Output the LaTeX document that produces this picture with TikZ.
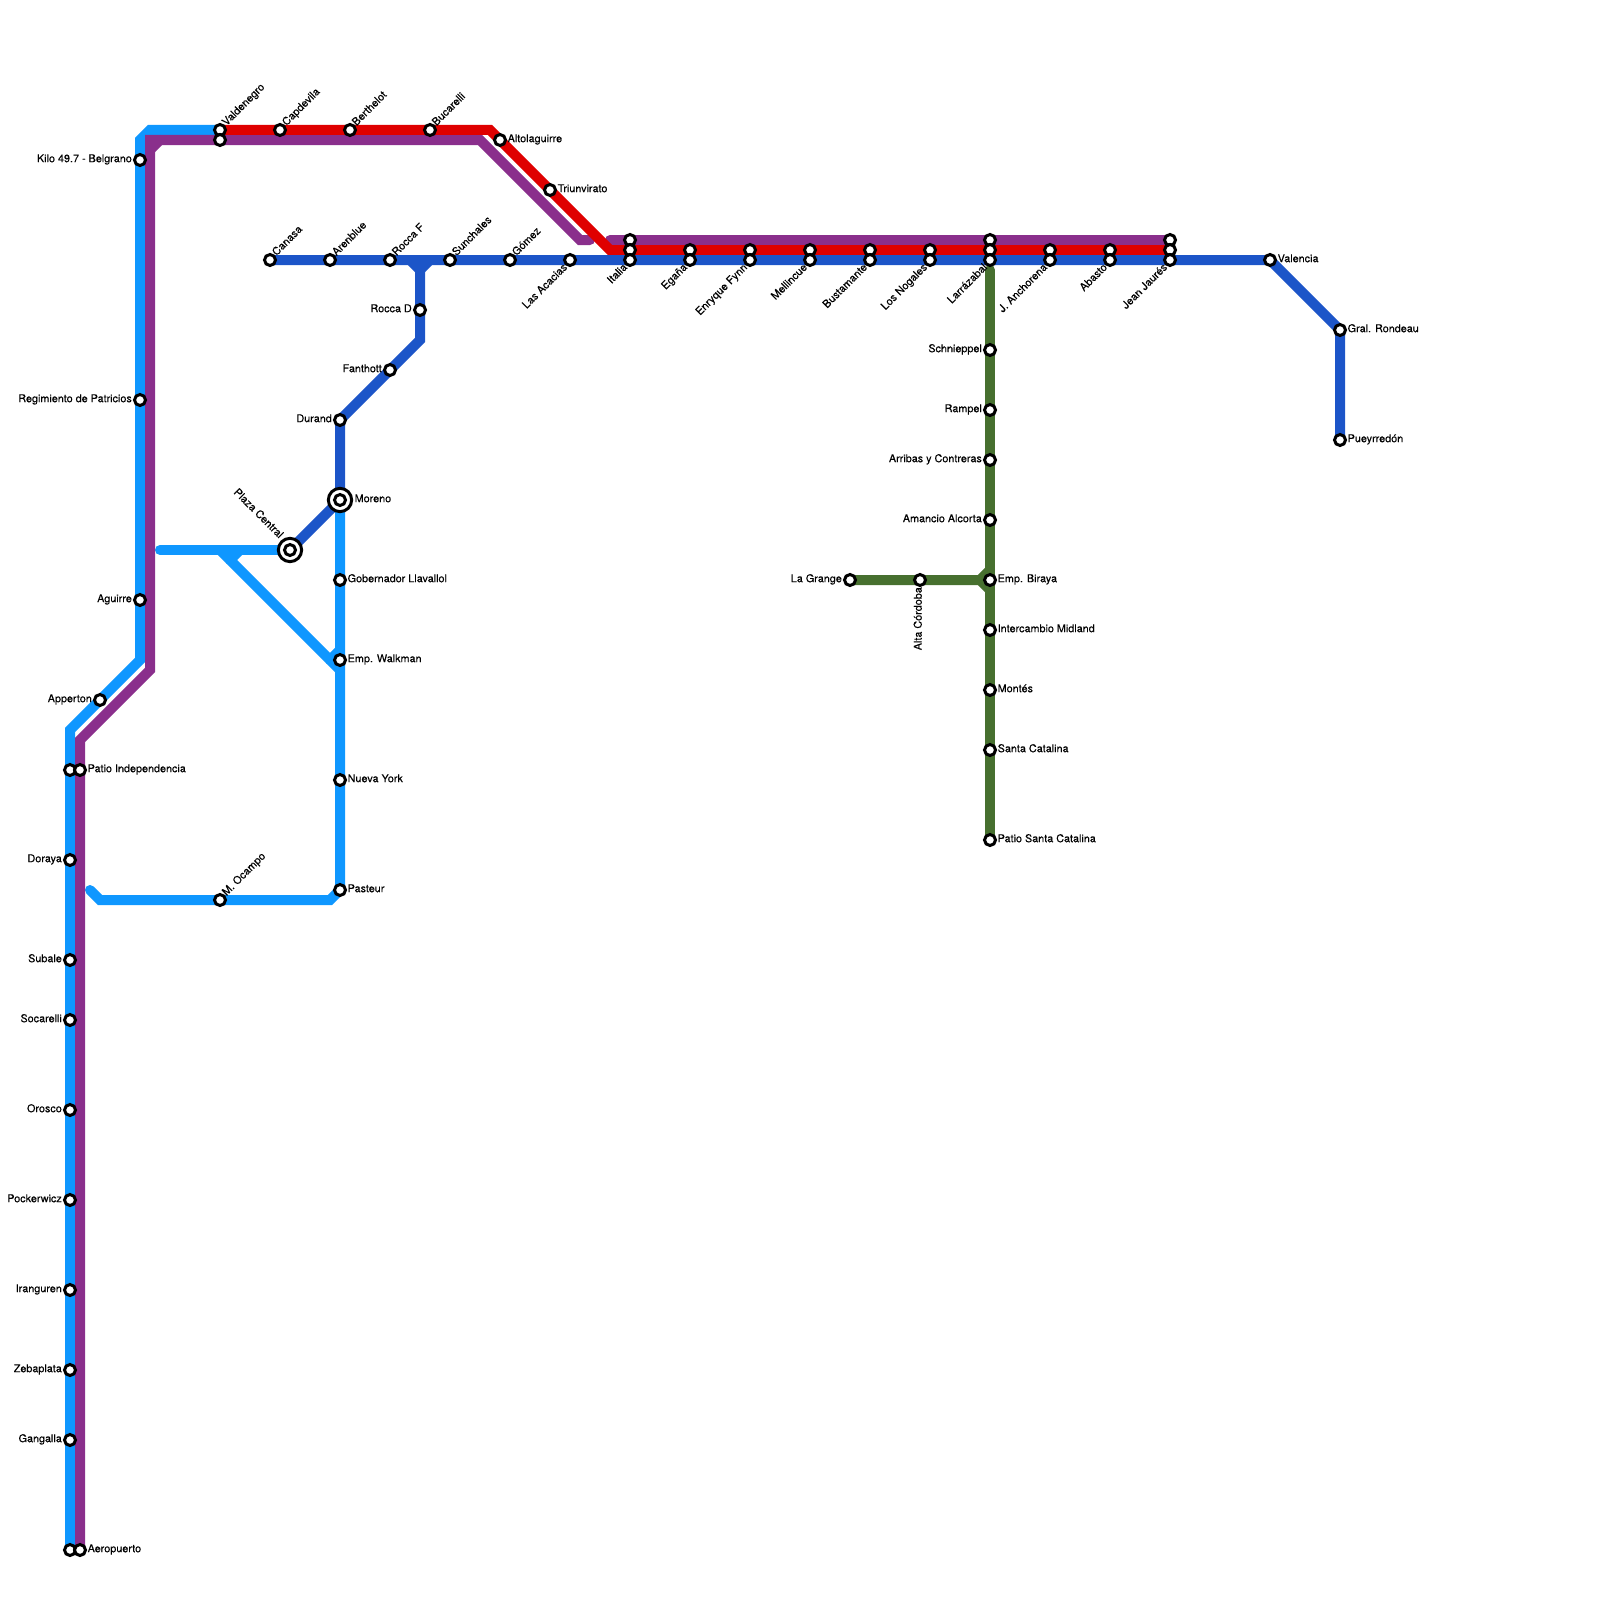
\documentclass[tikz,border=0pt]{standalone}
\usepackage{fontspec}
\setmainfont{TeX Gyre Heros}[FakeBold=0.25]
\usepackage{tikz}
\pgfdeclarelayer{tracks}
\pgfsetlayers{tracks,main}
\definecolor{celeste}{HTML}{0F97FF}
\definecolor{violeta}{HTML}{8A2F8C}
\definecolor{rojo}{HTML}{DF0000}
\definecolor{azul}{HTML}{1C55C8}
\definecolor{verde}{HTML}{47702F}

\begin{document}
\begin{tikzpicture}[
    x=1pt,
    y=-1pt,
    trackline/.style={
        line width=10pt,
        line cap=round,
        miter limit=10
    },
    stn/.style={
        circle,
        draw=black,
        fill=white,
        line width=3pt,
        inner sep=0pt,
        minimum size=11pt
    },
    hub/.style={
        circle,
        draw=black,
        fill=white,
        line width=3pt,
        inner sep=0pt,
        minimum size=23.3pt
    },
    lbl/.style={
        font=\fontsize{10.8}{12}\selectfont,
        inner sep=0pt,
        text height=7.6pt,
        text depth=2.2pt,
        text=black
    },
    lble/.style={lbl,xshift=7.5pt,yshift=0.5pt,anchor=west},
    lblw/.style={lbl,xshift=-8pt,yshift=0.5pt,anchor=east},
    lblne/.style={lbl,xshift=4.5pt,yshift=5.5pt,rotate=45,anchor=west},
    lblsw/.style={lbl,xshift=-4pt,yshift=-6pt,rotate=45,anchor=east}
]

\useasboundingbox (0,0) rectangle (1600,1600);

\node[stn] (aeropuertoa) at (70,1550) {};
\node[stn] (aeropuertob) at (80,1550) {};
\node[lble] (aeropuertotxt) at (aeropuertob) {Aeropuerto};
\node[stn] (gangalla) at (70,1440) {};
\node[lblw] (gangallatxt) at (gangalla) {Gangalla};
\node[stn] (zebaplata) at (70,1370) {};
\node[lblw] (zebaplatatxt) at (zebaplata) {Zebaplata};
\node[stn] (iranguren) at (70,1290) {};
\node[lblw] (irangurentxt) at (iranguren) {Iranguren};
\node[stn] (pockerwicz) at (70,1200) {};
\node[lblw] (pockerwicztxt) at (pockerwicz) {Pockerwicz};
\node[stn] (orosco) at (70,1110) {};
\node[lblw] (oroscotxt) at (orosco) {Orosco};
\node[stn] (socarelli) at (70,1020) {};
\node[lblw] (socarellitxt) at (socarelli) {Socarelli};
\node[stn] (subale) at (70,960) {};
\node[lblw] (subaletxt) at (subale) {Subale};
\node[stn] (doraya) at (70,860) {};
\node[lblw] (dorayatxt) at (doraya) {Doraya};
\node[stn] (patioa) at (70,770) {};
\node[stn] (patiob) at (80,770) {};
\node[lble] (patiotxt) at (patiob) {Patio Independencia};
\node[stn] (apperton) at (100,700) {};
\node[lblw] (appertontxt) at (apperton) {Apperton};
\node[stn] (aguirre) at (140,600) {};
\node[lblw] (aguirretxt) at (aguirre) {Aguirre};
\node[stn] (regimiento) at (140,400) {};
\node[lblw] (regimientotxt) at (regimiento) {Regimiento de Patricios};
\node[stn] (kilo) at (140,160) {};
\node[lblw] (kilotxt) at (kilo) {Kilo 49.7 - Belgrano};

\node[stn] (valdenegroa) at (220,130) {};
\node[stn] (valdenegrob) at (220,140) {};
\node[lblne] (valdenegrotxt) at (valdenegroa) {Valdenegro};
\node[stn] (capdevila) at (280,130) {};
\node[lblne] (capdevilatxt) at (capdevila) {Capdevila};
\node[stn] (berthelot) at (350,130) {};
\node[lblne] (berthelottxt) at (berthelot) {Berthelot};
\node[stn] (bucarelli) at (430,130) {};
\node[lblne] (bucarellitxt) at (bucarelli) {Bucarelli};
\node[stn] (altolaguirre) at (500,140) {};
\node[lble] (altolaguirretxt) at (altolaguirre) {Altolaguirre};
\node[stn] (triunvirato) at (550,190) {};
\node[lble] (triunviratotxt) at (triunvirato) {Triunvirato};

\node[stn] (canasa) at (270,260) {};
\node[lblne] (canasatxt) at (canasa) {Canasa};
\node[stn] (arenblue) at (330,260) {};
\node[lblne] (arenbluetxt) at (arenblue) {Arenblue};
\node[stn] (roccaf) at (390,260) {};
\node[lblne] (roccaftxt) at (roccaf) {Rocca F};
\node[stn] (sunchales) at (450,260) {};
\node[lblne] (sunchalestxt) at (sunchales) {Sunchales};
\node[stn] (gomez) at (510,260) {};
\node[lblne] (gomeztxt) at (gomez) {Gómez};
\node[stn] (acacias) at (570,260) {};
\node[lblsw] (acaciastxt) at (acacias) {Las Acacias};
\node[stn] (italiaa) at (630,240) {};
\node[stn] (italiab) at (630,250) {};
\node[stn] (italiac) at (630,260) {};
\node[lblsw] (italiatxt) at (italiac) {Italia};
\node[stn] (eganaa) at (690,250) {};
\node[stn] (eganab) at (690,260) {};
\node[lblsw] (eganatxt) at (eganab) {Egaña};
\node[stn] (fynna) at (750,250) {};
\node[stn] (fynnb) at (750,260) {};
\node[lblsw] (fynntxt) at (fynnb) {Enryque Fynn};
\node[stn] (mellincuea) at (810,250) {};
\node[stn] (mellincueb) at (810,260) {};
\node[lblsw] (mellincuetxt) at (mellincueb) {Mellincue};
\node[stn] (bustamantea) at (870,250) {};
\node[stn] (bustamanteb) at (870,260) {};
\node[lblsw] (bustamantetxt) at (bustamanteb) {Bustamante};
\node[stn] (nogalesa) at (930,250) {};
\node[stn] (nogalesb) at (930,260) {};
\node[lblsw] (nogalestxt) at (nogalesb) {Los Nogales};
\node[stn] (larrazabala) at (990,240) {};
\node[stn] (larrazabalb) at (990,250) {};
\node[stn] (larrazabalc) at (990,260) {};
\node[lblsw] (larrazabaltxt) at (larrazabalc) {Larrázabal};
\node[stn] (anchorenaa) at (1050,250) {};
\node[stn] (anchorenab) at (1050,260) {};
\node[lblsw] (anchorenatxt) at (anchorenab) {J. Anchorena};
\node[stn] (abastoa) at (1110,250) {};
\node[stn] (abastob) at (1110,260) {};
\node[lblsw] (abastotxt) at (abastob) {Abasto};
\node[stn] (jauresa) at (1170,240) {};
\node[stn] (jauresb) at (1170,250) {};
\node[stn] (jauresc) at (1170,260) {};
\node[lblsw] (jaurestxt) at (jauresc) {Jean Jaurés};
\node[stn] (valencia) at (1270,260) {};
\node[lble] (valenciatxt) at (valencia) {Valencia};
\node[stn] (rondeau) at (1340,330) {};
\node[lble] (rondeautxt) at (rondeau) {Gral. Rondeau};
\node[stn] (pueyrredon) at (1340,440) {};
\node[lble] (pueyrredontxt) at (pueyrredon) {Pueyrredón};

\node[stn] (roccad) at (420,310) {};
\node[lblw] (roccadtxt) at (roccad) {Rocca D};
\node[stn] (fanthott) at (390,370) {};
\node[lblw] (fanthotttxt) at (fanthott) {Fanthott};
\node[stn] (durand) at (340,420) {};
\node[lblw] (durandtxt) at (durand) {Durand};
\node[hub] (moreno) at (340,500) {};
\node[stn] (morenoin) at (340,500) {};
\node[lble,xshift=7pt] (morenotxt) at (moreno) {Moreno};
\node[hub] (plaza) at (290,550) {};
\node[stn] (plazain) at (290,550) {};
\node[lbl,xshift=-9pt,yshift=13pt,rotate=-45,anchor=east] (plazatxt) at (plaza) {Plaza Central};

\node[stn] (llavallol) at (340,580) {};
\node[lble] (llavalloltxt) at (llavallol) {Gobernador Llavallol};
\node[stn] (walkman) at (340,660) {};
\node[lble] (walkmantxt) at (walkman) {Emp. Walkman};
\node[stn] (nuevayork) at (340,780) {};
\node[lble] (nuevayorktxt) at (nuevayork) {Nueva York};
\node[stn] (pasteur) at (340,890) {};
\node[lble] (pasteurtxt) at (pasteur) {Pasteur};
\node[stn] (ocampo) at (220,900) {};
\node[lblne] (ocampotxt) at (ocampo) {M. Ocampo};

\node[stn] (schnieppel) at (990,350) {};
\node[lblw] (schnieppeltxt) at (schnieppel) {Schnieppel};
\node[stn] (rampel) at (990,410) {};
\node[lblw] (rampeltxt) at (rampel) {Rampel};
\node[stn] (arribas) at (990,460) {};
\node[lblw] (arribastxt) at (arribas) {Arribas y Contreras};
\node[stn] (alcorta) at (990,520) {};
\node[lblw] (alcortatxt) at (alcorta) {Amancio Alcorta};
\node[stn] (biraya) at (990,580) {};
\node[lble] (birayatxt) at (biraya) {Emp. Biraya};
\node[stn] (midland) at (990,630) {};
\node[lble] (midlandtxt) at (midland) {Intercambio Midland};
\node[stn] (montes) at (990,690) {};
\node[lble] (montestxt) at (montes) {Montés};
\node[stn] (catalina) at (990,750) {};
\node[lble] (catalinatxt) at (catalina) {Santa Catalina};
\node[stn] (patiocatalina) at (990,840) {};
\node[lble] (patiocatalinatxt) at (patiocatalina) {Patio Santa Catalina};
\node[stn] (grange) at (850,580) {};
\node[lblw] (grangetxt) at (grange) {La Grange};
\node[stn] (cordoba) at (920,580) {};
\node[lbl,xshift=-1pt,yshift=-7pt,rotate=90,anchor=east] (cordobatxt) at (cordoba) {Alta Córdoba};

\coordinate (celesteA) at (70,730);
\coordinate (celesteB) at (140,660);
\coordinate (celesteC) at (140,140);
\coordinate (celesteD) at (150,130);
\coordinate (celesteE) at (160,550);
\coordinate (celesteF) at (220,550);
\coordinate (celesteG) at (240,550);
\coordinate (celesteH) at (230,560);
\coordinate (celesteI) at (340,670);
\coordinate (celesteJ) at (340,650);
\coordinate (celesteK) at (330,660);
\coordinate (celesteL) at (330,900);
\coordinate (celesteM) at (100,900);
\coordinate (celesteN) at (90,890);
\coordinate (violetaA) at (80,740);
\coordinate (violetaB) at (150,670);
\coordinate (violetaC) at (150,140);
\coordinate (violetaD) at (150,150);
\coordinate (violetaJ) at (160,140);
\coordinate (violetaE) at (480,140);
\coordinate (violetaF) at (580,240);
\coordinate (violetaG) at (590,240);
\coordinate (violetaH) at (610,240);
\coordinate (rojoA) at (490,130);
\coordinate (rojoB) at (610,250);
\coordinate (azulA) at (410,260);
\coordinate (azulB) at (420,270);
\coordinate (azulC) at (430,260);
\coordinate (azulD) at (420,340);
\coordinate (verdeA) at (990,270);
\coordinate (verdeB) at (980,580);
\coordinate (verdeC) at (990,570);
\coordinate (verdeD) at (990,590);

\begin{pgfonlayer}{tracks}
\draw[trackline,verde] (verdeA) -- (patiocatalina.center);
\draw[trackline,verde] (grange.center) -- (verdeB) -- (verdeC);
\draw[trackline,verde] (verdeB) -- (verdeD);

\draw[trackline,celeste] (aeropuertoa.center) -- (celesteA) -- (celesteB) -- (celesteC) -- (celesteD) -- (valdenegroa.center);
\draw[trackline,celeste] (celesteE) -- (plaza.center);
\draw[trackline,celeste] (celesteF) -- (celesteI);
\draw[trackline,celeste] (celesteG) -- (celesteH);
\draw[trackline,celeste] (celesteJ) -- (celesteK);
\draw[trackline,celeste] (moreno.center) -- (pasteur.center) -- (celesteL) -- (celesteM) -- (celesteN);

\draw[trackline,violeta] (aeropuertob.center) -- (violetaA) -- (violetaB) -- (violetaC) -- (violetaE) -- (violetaF) -- (violetaG);
\draw[trackline,violeta] (violetaD) -- (violetaJ);
\draw[trackline,violeta] (violetaH) -- (jauresa.center);

\draw[trackline,rojo] (valdenegroa.center) -- (rojoA) -- (rojoB) -- (jauresb.center);

\draw[trackline,azul] (canasa.center) -- (valencia.center) -- (rondeau.center) -- (pueyrredon.center);
\draw[trackline,azul] (azulC) -- (azulB) -- (azulA);
\draw[trackline,azul] (azulB) -- (azulD) -- (durand.center) -- (moreno.center) -- (plaza.center);
\end{pgfonlayer}

\end{tikzpicture}
\end{document}
